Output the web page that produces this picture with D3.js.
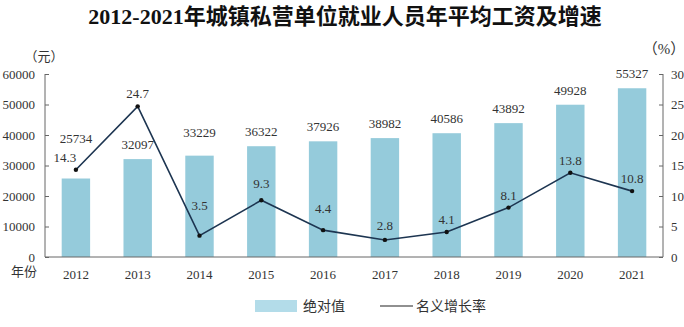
<!DOCTYPE html>
<html>
<head>
<meta charset="utf-8">
<script src="https://cdn.jsdelivr.net/npm/d3@7"></script>
<style>
  body { margin: 0; background: #fff; }
  svg text { font-family: "Liberation Serif", "Noto Sans CJK SC", serif; }
</style>
</head>
<body>
<div id="chart"></div>
<script>
var years = ["2012", "2013", "2014", "2015", "2016", "2017", "2018", "2019", "2020", "2021"];
var wages = [25734, 32097, 33229, 36322, 37926, 38982, 40586, 43892, 49928, 55327];
var growth = [14.3, 24.7, 3.5, 9.3, 4.4, 2.8, 4.1, 8.1, 13.8, 10.8];
var wageTicks = [0, 10000, 20000, 30000, 40000, 50000, 60000];
var rateTicks = [0, 5, 10, 15, 20, 25, 30];

var width = 684, height = 327;
var margin = { left: 45, right: 21, top: 74, bottom: 70 };

// a few labels sit higher to stay clear of the line
var barLabelLift = { "2012": 26, "2014": 9 };
var rateLabelLift = { "2014": 30, "2016": 21, "2015": 16, "2017": 14 };

var svg = d3.select("#chart").append("svg")
    .attr("width", width)
    .attr("height", height);

svg.append("text")
    .attr("x", 345)
    .attr("y", 24)
    .attr("text-anchor", "middle")
    .style("font-size", "22px")
    .style("font-weight", "bold")
    .attr("fill", "#111")
    .text("2012-2021年城镇私营单位就业人员年平均工资及增速");

var x = d3.scaleBand()
    .domain(years)
    .range([margin.left, width - margin.right])
    .paddingInner(0.54)
    .paddingOuter(0.27);

var y = d3.scaleLinear()
    .domain([0, 60000])
    .range([height - margin.bottom, margin.top]);

var y2 = d3.scaleLinear()
    .domain([0, 30])
    .range([height - margin.bottom, margin.top]);

var axisColor = "#666";
var textColor = "#333";

// bars
svg.selectAll(".bar")
    .data(wages)
    .enter().append("rect")
    .attr("class", "bar")
    .attr("x", function (d, i) { return x(years[i]); })
    .attr("y", function (d) { return y(d); })
    .attr("width", x.bandwidth())
    .attr("height", function (d) { return y(0) - y(d); })
    .attr("fill", "#95cbdb");

svg.selectAll(".barlabel")
    .data(wages)
    .enter().append("text")
    .attr("class", "barlabel")
    .attr("x", function (d, i) { return x(years[i]) + x.bandwidth() / 2; })
    .attr("y", function (d, i) { return y(d) - 10 - (barLabelLift[years[i]] || 0); })
    .attr("text-anchor", "middle")
    .style("font-size", "13px")
    .attr("fill", textColor)
    .text(function (d) { return d; });

// axes
var leftAxis = svg.append("g")
    .attr("transform", "translate(" + margin.left + ",0)")
    .call(d3.axisLeft(y).tickValues(wageTicks).tickSize(-4).tickPadding(10).tickFormat(d3.format("d")));

var rightAxis = svg.append("g")
    .attr("transform", "translate(" + (width - margin.right) + ",0)")
    .call(d3.axisRight(y2).tickValues(rateTicks).tickSize(-4).tickPadding(8));

var bottomAxis = svg.append("g")
    .attr("transform", "translate(0," + y(0) + ")")
    .call(d3.axisBottom(x).tickSize(0).tickPadding(10));

[leftAxis, rightAxis, bottomAxis].forEach(function (a) {
    a.select(".domain").attr("stroke", axisColor);
    a.selectAll(".tick line").attr("stroke", axisColor);
    a.selectAll(".tick text")
        .attr("fill", textColor)
        .style("font-size", "13px")
        .style("font-family", "'Liberation Serif', serif");
});
leftAxis.select(".domain").attr("d", "M0," + y(60000) + "V" + y(0));
rightAxis.select(".domain").attr("d", "M0," + y2(30) + "V" + y2(0));
bottomAxis.select(".domain").attr("d", "M" + margin.left + ",0H" + (width - margin.right));
bottomAxis.selectAll(".tick text").attr("dy", "0.9em");

// unit labels
svg.append("text")
    .attr("x", 44).attr("y", 61)
    .attr("text-anchor", "middle")
    .style("font-size", "13px")
    .attr("fill", textColor)
    .text("（元）");

svg.append("text")
    .attr("x", 24).attr("y", 276)
    .attr("text-anchor", "middle")
    .style("font-size", "13px")
    .attr("fill", textColor)
    .text("年份");

svg.append("text")
    .attr("x", 664).attr("y", 54)
    .attr("text-anchor", "middle")
    .style("font-size", "15px")
    .attr("fill", textColor)
    .text("（%）");

// growth line
var line = d3.line()
    .x(function (d, i) { return x(years[i]) + x.bandwidth() / 2; })
    .y(function (d) { return y2(d); });

svg.append("path")
    .datum(growth)
    .attr("d", line)
    .attr("fill", "none")
    .attr("stroke", "#1d3551")
    .attr("stroke-width", 1.6);

svg.selectAll(".dot")
    .data(growth)
    .enter().append("circle")
    .attr("class", "dot")
    .attr("cx", function (d, i) { return x(years[i]) + x.bandwidth() / 2; })
    .attr("cy", function (d) { return y2(d); })
    .attr("r", 2.2)
    .attr("fill", "#111");

svg.selectAll(".ratelabel")
    .data(growth)
    .enter().append("text")
    .attr("class", "ratelabel")
    .attr("x", function (d, i) {
        var cx = x(years[i]) + x.bandwidth() / 2;
        return i === 0 ? cx - 11 : cx;
    })
    .attr("y", function (d, i) { return y2(d) - 8 - (rateLabelLift[years[i]] ? rateLabelLift[years[i]] - 12 : 0); })
    .attr("text-anchor", "middle")
    .style("font-size", "13px")
    .attr("fill", textColor)
    .text(function (d) { return d.toFixed(1); });

// legend
var legend = svg.append("g");
legend.append("rect")
    .attr("x", 255).attr("y", 300)
    .attr("width", 42).attr("height", 12)
    .attr("fill", "#b3dce9");
legend.append("text")
    .attr("x", 303).attr("y", 311)
    .style("font-size", "14px")
    .attr("fill", textColor)
    .text("绝对值");
legend.append("line")
    .attr("x1", 380).attr("x2", 413)
    .attr("y1", 306).attr("y2", 306)
    .attr("stroke", "#222")
    .attr("stroke-width", 1.2);
legend.append("text")
    .attr("x", 416).attr("y", 311)
    .style("font-size", "14px")
    .attr("fill", textColor)
    .text("名义增长率");
</script>
</body>
</html>
